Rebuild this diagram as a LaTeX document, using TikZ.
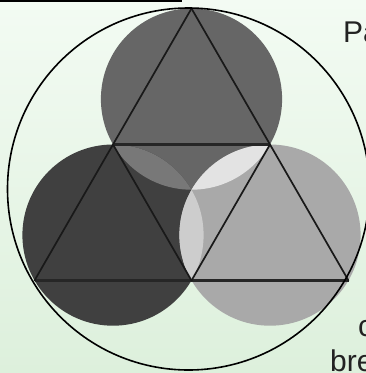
\documentclass[tikz,border=0pt]{standalone}
\usepackage{fontspec}
\setmainfont{Liberation Sans}
\definecolor{bgtop}{HTML}{F3FBF3}
\definecolor{bgbot}{HTML}{DDF0DC}
\definecolor{ctop}{HTML}{666666}
\definecolor{cleft}{HTML}{404040}
\definecolor{cright}{HTML}{A9A9A9}
\definecolor{ltl}{HTML}{787878}
\definecolor{ltr}{HTML}{E3E3E3}
\definecolor{llr}{HTML}{CDCDCD}
\definecolor{txt}{HTML}{222222}
\tikzset{
  edge/.style={draw=black!90, line width=1.7pt, line cap=round},
  hedge/.style={draw=black!85, line width=2.4pt},
  outer/.style={draw=black, line width=1.6pt},
  lbl/.style={anchor=base west, inner sep=0pt, text=txt, font=\fontsize{30}{35}\selectfont}
}
\begin{document}
\begin{tikzpicture}[x=1pt,y=-1pt]
\useasboundingbox (0,0) rectangle (366,373);
\shade[top color=bgtop, bottom color=bgbot] (0,0) rectangle (366,373);
\fill[black] (0,0) rectangle (182,2);
% vertices
\coordinate (A) at (191.5,8.5);
\coordinate (ML) at (113,144.5);
\coordinate (MR) at (270,144.5);
\coordinate (BL) at (34.5,280.5);
\coordinate (BM) at (191.5,280.5);
\coordinate (BR) at (348.5,280.5);
% circle centres
\coordinate (CT) at (191.5,99.1);
\coordinate (CL) at (113,235.1);
\coordinate (CR) at (270,235.1);
\coordinate (CO) at (188.5,189);
\def\rr{90.6}
% circles
\fill[ctop] (CT) circle[radius=\rr];
\fill[cleft] (CL) circle[radius=\rr];
\fill[cright] (CR) circle[radius=\rr];
% lenses
\begin{scope}
  \clip (CT) circle[radius=\rr];
  \fill[ltl] (CL) circle[radius=\rr];
  \fill[ltr] (CR) circle[radius=\rr];
\end{scope}
\begin{scope}
  \clip (CL) circle[radius=\rr];
  \fill[llr] (CR) circle[radius=\rr];
\end{scope}
% triangle lines
\draw[hedge] (ML) -- (MR);
\draw[hedge] (BL) -- (BR);
\draw[edge] (A) -- (BL);
\draw[edge] (A) -- (BR);
\draw[edge] (ML) -- (BM);
\draw[edge] (MR) -- (BM);
% outer circle
\draw[outer] (CO) circle[radius=181];
% texts
\node[lbl] (t1) at (343,42) {Pa};
\node[lbl] (t2) at (358,336) {c};
\node[lbl] (t3) at (330,371) {bre};
\end{tikzpicture}
\end{document}
